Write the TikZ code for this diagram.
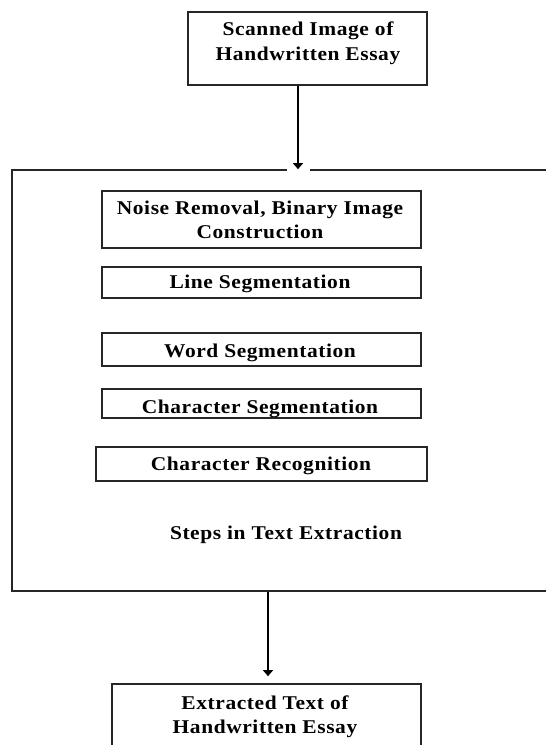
\documentclass[tikz,border=0pt]{standalone}
\usepackage{fontspec}
\setmainfont{Liberation Serif}[LetterSpace=3, FakeStretch=1.1]
\usetikzlibrary{arrows.meta}

\begin{document}
\begin{tikzpicture}[x=1pt, y=-1pt,
  box/.style={draw=black!85, line width=1.7pt, inner sep=0pt},
  lbl/.style={font=\bfseries\fontsize{19.5}{24}\selectfont, anchor=base, inner sep=0pt},
  flow/.style={draw=black, line width=1.4pt, -{Triangle[length=6pt,width=10pt]}}]

\useasboundingbox (0,0) rectangle (546,745);
\clip (0,0) rectangle (546,745);

% input image
\node[box, minimum width=239pt, minimum height=73pt] (scan) at (307.5,48.5) {};
\node[lbl] (scanA) at (308,35) {Scanned Image of};
\node[lbl] (scanB) at (308,60) {Handwritten Essay};

% enclosing frame of the extraction steps
\node[box, minimum width=548pt, minimum height=421pt] (steps) at (286,380.5) {};

% individual processing steps
\node[box, minimum width=319pt, minimum height=57pt] (noise) at (261.5,219.5) {};
\node[lbl] (noiseA) at (260,214) {Noise Removal, Binary Image};
\node[lbl] (noiseB) at (260,238) {Construction};

\node[box, minimum width=319pt, minimum height=31pt] (line) at (261.5,282.5) {};
\node[lbl] (lineT) at (260,288.5) {Line Segmentation};

\node[box, minimum width=319pt, minimum height=33pt] (word) at (261.5,349.5) {};
\node[lbl] (wordT) at (260,357) {Word Segmentation};

\node[box, minimum width=319pt, minimum height=29pt] (cseg) at (261.5,403.5) {};
\node[lbl] (csegT) at (260,413) {Character Segmentation};

\node[box, minimum width=331pt, minimum height=34pt] (crec) at (261.5,464) {};
\node[lbl] (crecT) at (261,470) {Character Recognition};

\node[lbl] (title) at (286,539) {Steps in Text Extraction};

% output text
\node[box, minimum width=309pt, minimum height=90pt] (out) at (266.5,729) {};
\node[lbl] (outA) at (265,709) {Extracted Text of};
\node[lbl] (outB) at (265,733) {Handwritten Essay};

% connectors
\coordinate (ax1) at (298,0);
\coordinate (ax2) at (268,0);
\fill[white] (287,167) rectangle (310,173.5);
\draw[flow] (ax1 |- scan.south) -- (ax1 |- steps.north);
\draw[flow, shorten >=7pt] (ax2 |- steps.south) -- (ax2 |- out.north);

\end{tikzpicture}
\end{document}
